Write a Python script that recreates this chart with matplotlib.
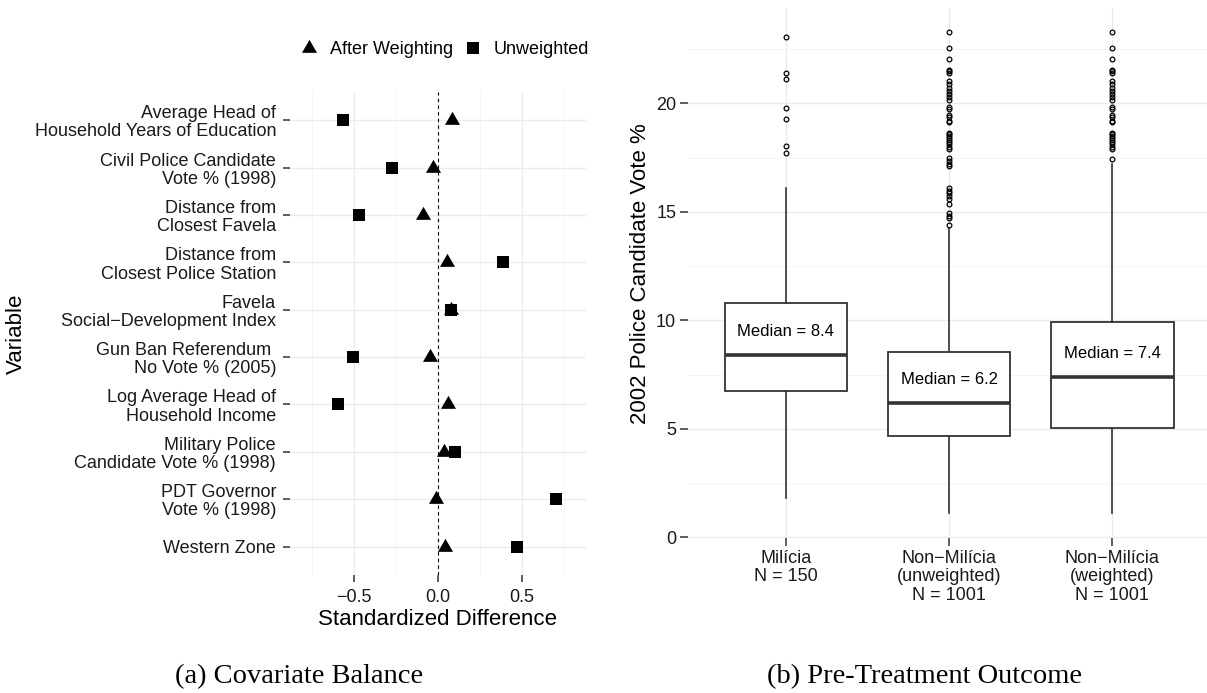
import matplotlib
matplotlib.use("Agg")
import matplotlib.pyplot as plt
from matplotlib.lines import Line2D
from matplotlib.path import Path
import numpy as np

plt.rcParams["font.family"] = ["Liberation Sans", "DejaVu Sans"]

# ---------------- data: (a) covariate balance ----------------
variables = [
    "Average Head of\nHousehold Years of Education",
    "Civil Police Candidate\nVote % (1998)",
    "Distance from\nClosest Favela",
    "Distance from\nClosest Police Station",
    "Favela\nSocial\u2212Development Index",
    "Gun Ban Referendum \nNo Vote % (2005)",
    "Log Average Head of\nHousehold Income",
    "Military Police\nCandidate Vote % (1998)",
    "PDT Governor\nVote % (1998)",
    "Western Zone",
]
after_weighting = [0.082, -0.027, -0.089, 0.055, 0.080, -0.045, 0.064, 0.037, -0.013, 0.041]
unweighted = [-0.567, -0.275, -0.469, 0.388, 0.078, -0.505, -0.594, 0.105, 0.702, 0.474]
xticks_a = [-0.5, 0.0, 0.5]

# ---------------- data: (b) pre-treatment outcome ----------------
groups = [
    "Mil\u00edcia\nN = 150",
    "Non\u2212Mil\u00edcia\n(unweighted)\nN = 1001",
    "Non\u2212Mil\u00edcia\n(weighted)\nN = 1001",
]
q1 = [6.76, 4.68, 5.02]
medians = [8.4, 6.2, 7.4]
q3 = [10.78, 8.53, 9.94]
whisker_low = [1.8, 1.1, 1.1]
whisker_high = [16.08, 14.24, 17.2]
fliers_milicia = [23.06, 21.38, 21.12, 19.78, 19.29, 18.03, 17.69]
fliers_unweighted = [23.30, 22.53, 22.04, 21.53, 21.49, 21.41, 21.04, 20.89, 20.73, 20.57,
                     20.41, 20.28, 20.15, 19.81, 19.72, 19.46, 19.35, 19.17, 19.12, 18.65,
                     18.57, 18.49, 18.42, 18.31, 18.23, 18.12, 18.00, 17.89, 17.46, 17.34,
                     17.20, 17.11, 16.08, 15.97, 15.85, 15.73, 15.58, 15.37, 14.93, 14.82,
                     14.70, 14.39]
fliers_weighted = [23.30, 22.53, 22.04, 21.53, 21.49, 21.41, 21.04, 20.89, 20.73, 20.57,
                   20.41, 20.28, 20.15, 19.81, 19.72, 19.46, 19.35, 19.17, 19.12, 18.65,
                   18.57, 18.49, 18.42, 18.31, 18.23, 18.12, 18.00, 17.89, 17.42]
median_labels = ["Median = 8.4", "Median = 6.2", "Median = 7.4"]
yticks_b = [0, 5, 10, 15, 20]

W, H = 1207, 693
fig = plt.figure(figsize=(W / 100, H / 100), dpi=100)

GRID_MAJ = "#EBEBEB"
GRID_MIN = "#F5F5F5"
TXT = "#1A1A1A"
TICK = "#333333"

# R-style filled triangle (pch 17), centred on its circumcentre
TRI = Path([(0, 1.555), (1.347, -0.778), (-1.347, -0.778), (0, 1.555)],
           [Path.MOVETO, Path.LINETO, Path.LINETO, Path.CLOSEPOLY])
TRI_MS = 12.5
SQ_MS = 8.3


def fig_rect(x0, y0, x1, y1):
    return [x0 / W, 1 - y1 / H, (x1 - x0) / W, (y1 - y0) / H]


# ---------------- panel (a) ----------------
ax1 = fig.add_axes(fig_rect(290, 91.7, 585.5, 575))
ypos = np.arange(1, len(variables) + 1)
ax1.plot(after_weighting, ypos, ls="none", marker=TRI, color="black", ms=TRI_MS,
         mew=0, zorder=3)
ax1.plot(unweighted, ypos, ls="none", marker="s", color="black", ms=SQ_MS, mew=0, zorder=3)
ax1.axvline(0, color="black", lw=0.8, ls=(0, (3, 3)), zorder=2)
ax1.set_xlim(-0.88, 0.88)
ax1.set_ylim(10.6, 0.4)
ax1.set_xticks(xticks_a)
ax1.set_xticks([-0.75, -0.25, 0.25, 0.75], minor=True)
ax1.set_yticks(ypos)
ax1.set_yticklabels(variables)
for lab in ax1.get_yticklabels():
    lab.set_linespacing(1.1)
ax1.grid(which="major", color=GRID_MAJ, lw=1.0)
ax1.grid(which="minor", axis="x", color=GRID_MIN, lw=0.7)
ax1.set_axisbelow(True)
for s in ax1.spines.values():
    s.set_visible(False)
ax1.tick_params(which="major", length=5, width=1.1, color=TICK, labelsize=13,
                labelcolor=TXT, pad=5)
ax1.tick_params(which="minor", length=0)
ax1.set_xlabel("Standardized Difference", fontsize=16, color="black")
ax1.xaxis.set_label_coords(0.5, -0.07)
ax1.set_ylabel("Variable", fontsize=16, color="black", va="center")
ax1.yaxis.set_label_coords(-0.925, 0.5)

handles = [
    Line2D([], [], ls="none", marker=TRI, color="black", ms=TRI_MS, mew=0),
    Line2D([], [], ls="none", marker="s", color="black", ms=SQ_MS, mew=0),
]
fig.legend(handles, ["After Weighting", "Unweighted"], loc="center",
           bbox_to_anchor=(444.5 / W, 1 - 50 / H), bbox_transform=fig.transFigure,
           ncol=2, frameon=False, fontsize=13, handlelength=1.0, handletextpad=0.65,
           columnspacing=0.6, borderpad=0)

# ---------------- panel (b) ----------------
ax2 = fig.add_axes(fig_rect(688, 8.3, 1207, 538))
pos = [1, 2, 3]
fliers_all = [fliers_milicia, fliers_unweighted, fliers_weighted]
stats = []
for i in range(3):
    stats.append(dict(med=medians[i], q1=q1[i], q3=q3[i], whislo=whisker_low[i],
                      whishi=whisker_high[i], fliers=fliers_all[i]))
ax2.bxp(stats, positions=pos, widths=0.75, patch_artist=True, showcaps=False,
        boxprops=dict(facecolor="white", edgecolor="#333333", lw=1.3),
        medianprops=dict(color="#333333", lw=2.6, solid_capstyle="butt"),
        whiskerprops=dict(color="#333333", lw=1.2),
        flierprops=dict(marker="o", mfc="none", mec="black", ms=3.4, mew=0.9))
for i in range(3):
    ax2.text(pos[i], medians[i] + 1.08, median_labels[i], ha="center", va="center",
             fontsize=12, color="black", zorder=5)
ax2.set_xlim(0.4, 0.4 + 519 / 163.2)
ax2.set_ylim(-0.03, 24.38)
ax2.set_xticks(pos)
ax2.set_xticklabels(groups)
for lab in ax2.get_xticklabels():
    lab.set_linespacing(1.12)
ax2.set_yticks(yticks_b)
ax2.set_yticks([2.5, 7.5, 12.5, 17.5, 22.5], minor=True)
ax2.grid(which="major", color=GRID_MAJ, lw=1.0)
ax2.grid(which="minor", axis="y", color=GRID_MIN, lw=0.7)
ax2.set_axisbelow(True)
for s in ax2.spines.values():
    s.set_visible(False)
ax2.tick_params(which="major", length=5.5, width=1.1, color=TICK, labelsize=13,
                labelcolor=TXT, pad=3)
ax2.tick_params(axis="x", pad=3)
ax2.tick_params(which="minor", length=0)
ax2.set_ylabel("2002 Police Candidate Vote %", fontsize=16, color="black", va="center")
ax2.yaxis.set_label_coords((640 - 688) / 519, 0.5)

# ---------------- captions ----------------
fig.text(299.5 / W, 1 - 677 / H, "(a) Covariate Balance", ha="center", va="center",
         fontsize=20.5, family="Liberation Serif")
fig.text(924 / W, 1 - 677 / H, "(b) Pre-Treatment Outcome", ha="center", va="center",
         fontsize=20.5, family="Liberation Serif")

fig.savefig("out.png", dpi=100)
